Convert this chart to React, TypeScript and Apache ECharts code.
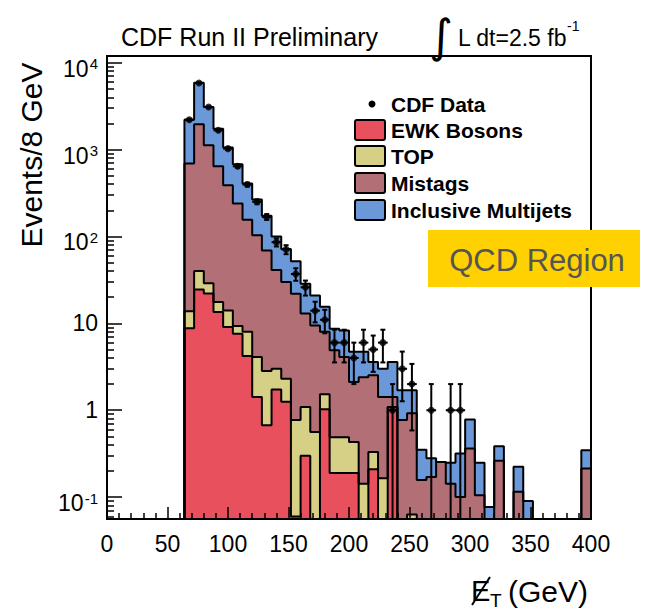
import React, { useEffect, useRef } from 'react';
import * as echarts from 'echarts';

// ---- data (Events / 8 GeV), bins of 8 GeV starting at 64 GeV ----
const BIN_LOW = 64;
const BIN_WIDTH = 8;
const EWK_BOSONS = [8.8, 24.5, 22, 13.5, 9.1, 7.6, 4.2, 1.42, 0.67, 1.73, 1.25, 0.06, 0.3, 0, 1.03, 0.19, 0.19, 0.19, 0, 0.21, 0, 1.09,
  0, 0, 0, 0, 0, 0, 0, 0, 0, 0, 0, 0, 0, 0, 0, 0, 0, 0, 0, 0];
const TOP = [5.0, 15.5, 7.0, 4.1, 5.0, 1.7, 3.8, 2.68, 2.16, 1.27, 1.05, 0.71, 0.79, 0.56, 0.5, 0.3, 0.3, 0.24, 0.143, 0.12, 0.165, 0, 0, 0.063,
  0, 0, 0, 0, 0, 0, 0, 0, 0, 0, 0, 0, 0, 0, 0, 0, 0, 0];
const MISTAGS = [676, 1915, 1091, 625, 374, 231, 148, 99, 66, 38, 27.7, 21.2, 11.9, 8.9, 6.5, 4.4, 3.6, 1.69, 2.26, 2.2, 1.26, 0.33,
  0.77, 0.86, 0.157, 0.17, 0.254, 0.143, 0.1, 0.363, 0.105, 0, 0.263, 0, 0.115, 0, 0, 0, 0, 0, 0, 0.213];
const MULTIJETS = [1510, 3945, 1980, 1097, 667, 440, 250, 163, 104, 59, 42, 30, 15.5, 11.5, 7.5, 3.8, 4.2, 2.58, 2.3, 1.07, 1.58, 2.18,
  0.93, 0.78, 0.193, 0.11, 0, 0.105, 0.218, 0.417, 0.143, 0.077, 0.122, 0, 0.108, 0.09, 0, 0, 0, 0, 0, 0.134];
const CDF_DATA = [2210, 5840, 3090, 1667, 1026, 643, 396, 251, 168, 86, 71, 37, 26, 14, 11, 6, 6, 4, 6, 5, 6, 1, 3, 2, 0, 1, 0, 1, 1,
  0, 0, 0, 0, 0, 0, 0, 0, 0, 0, 0, 0, 0];

const LEGEND_NAMES = ['CDF Data', 'EWK Bosons', 'TOP', 'Mistags', 'Inclusive Multijets'];
const Y_LABEL_VALUES = [0.1, 1, 10, 100, 1000, 10000];
const X_MIN = 0;
const X_MAX = 400;
const Y_MIN = 0.056;
const Y_MAX = 11950;

const COLORS = {
  ewk: '#E9505E',
  top: '#D6D087',
  mistags: '#B26F75',
  qcd: '#6B98D8',
};
const FONT = '"Liberation Sans", Arial, Helvetica, sans-serif';
const FLOOR = 1e-4;

function addLayers(a: number[], b: number[]) {
  return a.map((v, i) => v + b[i]);
}

function stepPoints(vals: number[]) {
  const pts: number[][] = [[BIN_LOW, FLOOR]];
  vals.forEach((v, i) => pts.push([BIN_LOW + BIN_WIDTH * i, v > 0 ? v : FLOOR]));
  const last = vals[vals.length - 1];
  const end = BIN_LOW + BIN_WIDTH * vals.length;
  pts.push([end, last > 0 ? last : FLOOR]);
  pts.push([end, FLOOR]);
  return pts;
}

function minorTicks() {
  const out: number[] = [];
  for (let e = -2; e <= 4; e++) {
    for (let k = 2; k <= 9; k++) {
      const v = parseFloat((k * Math.pow(10, e)).toPrecision(6));
      if (v >= Y_MIN && v <= Y_MAX) out.push(v);
    }
  }
  return out;
}

function buildOption() {
  const c1 = EWK_BOSONS.slice();
  const c2 = addLayers(c1, TOP);
  const c3 = addLayers(c2, MISTAGS);
  const c4 = addLayers(c3, MULTIJETS);

  const layer = (name: string, vals: number[], color: string) => ({
    name,
    type: 'line',
    step: 'end',
    data: stepPoints(vals),
    symbol: 'none',
    showSymbol: false,
    clip: true,
    silent: true,
    xAxisIndex: 0,
    yAxisIndex: 0,
    lineStyle: { color: '#000', width: 2 },
    areaStyle: { color, opacity: 1, origin: 'start' },
    z: 2,
  });

  const pts = CDF_DATA.map((n, i) => [BIN_LOW + BIN_WIDTH * i + BIN_WIDTH / 2, n]).filter((p) => p[1] > 0);
  const errs = pts.map(([x, n]) => [x, n, Math.max(n - Math.sqrt(n), FLOOR), n + Math.sqrt(n)]);

  const blk = { stroke: '#000', lineWidth: 2 };

  return {
    animation: false,
    backgroundColor: '#fff',
    grid: {
      left: 107, top: 56, width: 484, height: 463,
      show: true, borderColor: '#000', borderWidth: 2, backgroundColor: 'transparent', z: 10,
    },
    xAxis: {
      type: 'value', min: X_MIN, max: X_MAX, interval: 50, z: 10,
      axisLine: { show: true, onZero: false, lineStyle: { color: '#000', width: 2 } },
      axisTick: { show: true, inside: true, length: 12, lineStyle: { color: '#000', width: 1.5 } },
      minorTick: { show: true, splitNumber: 5, length: 6, lineStyle: { color: '#000', width: 1.5 } },
      axisLabel: { fontSize: 23, fontFamily: FONT, color: '#000', margin: 13 },
      splitLine: { show: false },
      minorSplitLine: { show: false },
    },
    yAxis: [
      {
        type: 'log', logBase: 10, min: Y_MIN, max: Y_MAX, z: 10,
        axisLine: { show: true, onZero: false, lineStyle: { color: '#000', width: 2 } },
        axisTick: { show: true, inside: true, length: 15, customValues: Y_LABEL_VALUES, lineStyle: { color: '#000', width: 1.5 } },
        axisLabel: {
          customValues: Y_LABEL_VALUES,
          margin: 9,
          formatter: (v: number) => {
            const e = Math.round(Math.log10(v));
            if (e === 0) return '{p|1}';
            if (e === 1) return '{p|10}';
            return '{b|10}{s|' + e + '}';
          },
          rich: {
            p: { fontSize: 23, fontFamily: FONT, color: '#000' },
            b: { fontSize: 23, fontFamily: FONT, color: '#000', lineHeight: 35, verticalAlign: 'bottom' },
            s: { fontSize: 15, fontFamily: FONT, color: '#000', lineHeight: 15, padding: [0, 0, 9, 1], verticalAlign: 'bottom' },
          },
        },
        splitLine: { show: false },
      },
      {
        type: 'log', logBase: 10, min: Y_MIN, max: Y_MAX, z: 10, position: 'left',
        axisLine: { show: false },
        axisTick: { show: true, inside: true, length: 7, customValues: minorTicks(), lineStyle: { color: '#000', width: 1.5 } },
        axisLabel: { show: false },
        splitLine: { show: false },
      },
    ],
    series: [
      layer(LEGEND_NAMES[4], c4, COLORS.qcd),
      layer(LEGEND_NAMES[3], c3, COLORS.mistags),
      layer(LEGEND_NAMES[2], c2, COLORS.top),
      layer(LEGEND_NAMES[1], c1, COLORS.ewk),
      {
        name: 'errors',
        type: 'custom',
        clip: true,
        silent: true,
        z: 4,
        encode: { x: 0, y: 1 },
        data: errs,
        renderItem: (params: any, api: any) => {
          const x = api.value(0);
          const n = api.value(1);
          const top = api.coord([x, api.value(3)]);
          const bot = api.coord([x, api.value(2)]);
          const l = api.coord([x - BIN_WIDTH / 2, n]);
          const r = api.coord([x + BIN_WIDTH / 2, n]);
          return {
            type: 'group',
            children: [
              { type: 'line', shape: { x1: top[0], y1: top[1], x2: bot[0], y2: bot[1] }, style: blk },
              { type: 'line', shape: { x1: top[0] - 2.5, y1: top[1], x2: top[0] + 2.5, y2: top[1] }, style: blk },
              { type: 'line', shape: { x1: bot[0] - 2.5, y1: bot[1], x2: bot[0] + 2.5, y2: bot[1] }, style: blk },
              { type: 'line', shape: { x1: l[0], y1: l[1], x2: r[0], y2: r[1] }, style: blk },
            ],
          };
        },
      },
      {
        name: LEGEND_NAMES[0],
        type: 'scatter',
        data: pts,
        symbol: 'circle',
        symbolSize: 7,
        itemStyle: { color: '#000' },
        silent: true,
        z: 5,
      },
    ],
    graphic: [
      { type: 'text', x: 121, y: 37, z: 100, style: { text: 'CDF Run II Preliminary', fontSize: 25, fontFamily: FONT, fill: '#000', align: 'left', verticalAlign: 'middle' } },
      { type: 'text', x: 441, y: 36, z: 100, style: { text: '\u222B', fontSize: 46, fontFamily: '"DejaVu Sans"', fill: '#000', align: 'center', verticalAlign: 'middle' } },
      { type: 'text', x: 458, y: 38, z: 100, style: { text: 'L dt=2.5 fb', fontSize: 23, fontFamily: FONT, fill: '#000', align: 'left', verticalAlign: 'middle' } },
      { type: 'text', x: 567, y: 26, z: 100, style: { text: '-1', fontSize: 14, fontFamily: FONT, fill: '#000', align: 'left', verticalAlign: 'middle' } },
      // legend
      { type: 'circle', z: 100, shape: { cx: 372, cy: 104, r: 3.5 }, style: { fill: '#000' } },
      { type: 'text', x: 391, y: 104, z: 100, style: { text: LEGEND_NAMES[0], fontSize: 21, fontWeight: 'bold', fontFamily: FONT, fill: '#000', align: 'left', verticalAlign: 'middle' } },
      ...[COLORS.ewk, COLORS.top, COLORS.mistags, COLORS.qcd].flatMap((c, i) => {
        const cy = [130, 156, 183, 210][i];
        return [
          { type: 'rect', z: 100, shape: { x: 355, y: cy - 10, width: 30, height: 20, r: 2 }, style: { fill: c, stroke: '#000', lineWidth: 2 } },
          { type: 'text', x: 391, y: cy, z: 100, style: { text: LEGEND_NAMES[i + 1], fontSize: 21, fontWeight: 'bold', fontFamily: FONT, fill: '#000', align: 'left', verticalAlign: 'middle' } },
        ];
      }),
      // QCD region tag
      { type: 'rect', z: 100, shape: { x: 428, y: 230, width: 212, height: 57 }, style: { fill: '#FFD100' } },
      { type: 'text', x: 537, y: 260, z: 101, style: { text: 'QCD Region', fontSize: 31, fontFamily: FONT, fill: '#555555', align: 'center', verticalAlign: 'middle' } },
      // y title
      { type: 'text', x: 31, y: 155, rotation: Math.PI / 2, z: 100, style: { text: 'Events/8 GeV', fontSize: 30, fontFamily: FONT, fill: '#000', align: 'center', verticalAlign: 'middle' } },
      // x title: missing E_T (GeV)
      { type: 'text', x: 471, y: 591, z: 100, style: { text: 'E', fontSize: 29, fontFamily: FONT, fill: '#000', align: 'left', verticalAlign: 'middle' } },
      { type: 'line', z: 100, shape: { x1: 472, y1: 605, x2: 490, y2: 577 }, style: { stroke: '#000', lineWidth: 2 } },
      { type: 'text', x: 490, y: 600, z: 100, style: { text: 'T', fontSize: 19, fontFamily: FONT, fill: '#000', align: 'left', verticalAlign: 'middle' } },
      { type: 'text', x: 508, y: 591, z: 100, style: { text: '(GeV)', fontSize: 30, fontFamily: FONT, fill: '#000', align: 'left', verticalAlign: 'middle' } },
    ],
  };
}

export default function App() {
  const ref = useRef<HTMLDivElement>(null);
  useEffect(() => {
    const chart = echarts.init(ref.current as HTMLDivElement, null, { renderer: 'svg' });
    chart.setOption(buildOption() as any);
    return () => chart.dispose();
  }, []);
  return (
    <div
      ref={ref}
      style={{ position: 'absolute', left: 0, top: 0, width: 646, height: 612, background: '#fff' }}
    />
  );
}
